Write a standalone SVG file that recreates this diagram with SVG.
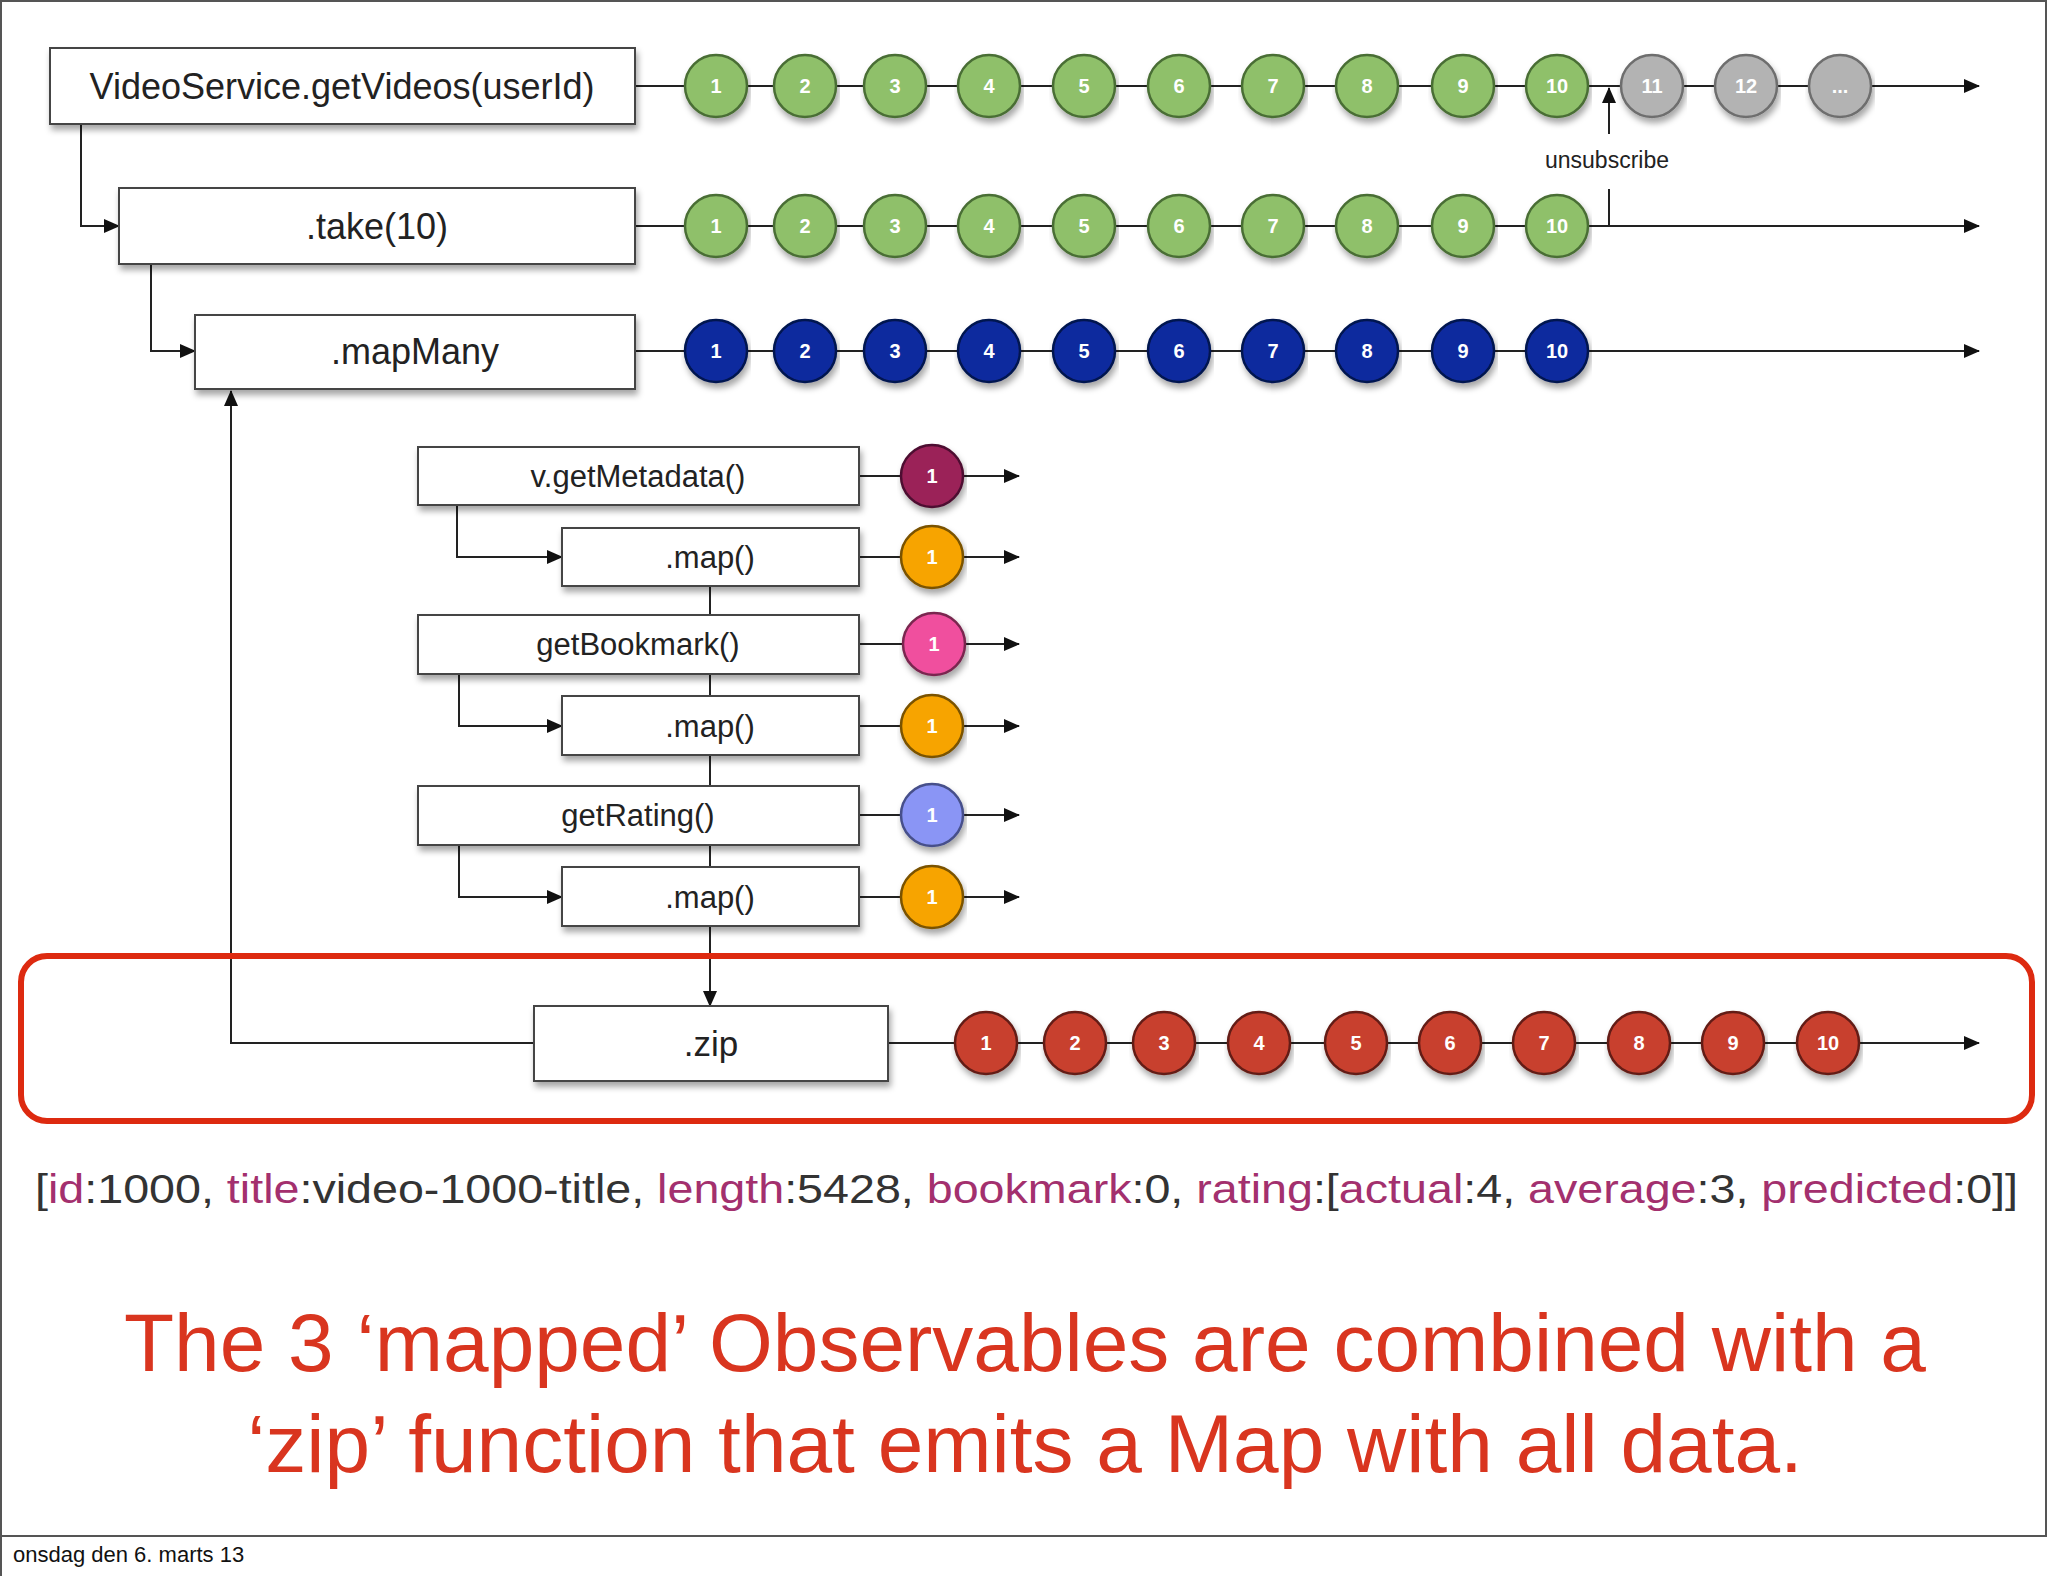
<svg xmlns="http://www.w3.org/2000/svg" width="2048" height="1576" viewBox="0 0 2048 1576">
<defs>
<marker id="ah" markerWidth="16" markerHeight="14" refX="15" refY="7" orient="auto" markerUnits="userSpaceOnUse"><path d="M0,0 L16,7 L0,14 z" fill="#111"/></marker>
<filter id="sh" x="-5%" y="-20%" width="110%" height="150%"><feDropShadow dx="2" dy="5" stdDeviation="3" flood-color="#000" flood-opacity="0.35"/></filter>
</defs>
<style>
.box{fill:#fff;stroke:#444;stroke-width:2;filter:url(#sh)}
.bt{font-family:"Liberation Sans",Arial,sans-serif;fill:#222;text-anchor:middle}
.ln{stroke:#222;stroke-width:2;fill:none}
.c{stroke-width:2.5;filter:url(#sh)}
.ct{font-family:"Liberation Sans",Arial,sans-serif;font-size:20px;fill:#fff;text-anchor:middle;font-weight:bold}
.g{fill:#8fc06a;stroke:#4a6e35}.gr{fill:#b3b3b3;stroke:#6e6e6e}.b{fill:#0a2a9e;stroke:#061650}
.m{fill:#9b2258;stroke:#4e1030}.p{fill:#f0509e;stroke:#7a2850}.v{fill:#8a95f5;stroke:#46508a}.o{fill:#f7a400;stroke:#7a5200}.r{fill:#c8402f;stroke:#641e16}
.k{fill:#a3306e}
</style>
<rect width="2048" height="1576" fill="#fff"/>
<path d="M1,1576 V1 H2046 V1536 H1 " fill="none" stroke="#555" stroke-width="2"/>
<g id="connectors">
<line class="ln" x1="635" y1="86" x2="1979" y2="86" marker-end="url(#ah)"/>
<line class="ln" x1="635" y1="226" x2="1979" y2="226" marker-end="url(#ah)"/>
<line class="ln" x1="635" y1="351" x2="1979" y2="351" marker-end="url(#ah)"/>
<line class="ln" x1="888" y1="1043" x2="1979" y2="1043" marker-end="url(#ah)"/>
<path class="ln" d="M81,124 V226 H119" marker-end="url(#ah)"/>
<path class="ln" d="M151,264 V351 H195" marker-end="url(#ah)"/>
<path class="ln" d="M534,1043 H231 V391" marker-end="url(#ah)"/>
<path class="ln" d="M1609,226 V189"/>
<line class="ln" x1="1609" y1="134" x2="1609" y2="88" marker-end="url(#ah)"/>
<path class="ln" d="M457,505 V557 H562" marker-end="url(#ah)"/>
<path class="ln" d="M459,674 V726 H562" marker-end="url(#ah)"/>
<path class="ln" d="M459,845 V897 H562" marker-end="url(#ah)"/>
<line class="ln" x1="710" y1="586" x2="710" y2="1006" marker-end="url(#ah)"/>
<g>
<line class="ln" x1="859" y1="476" x2="1019" y2="476" marker-end="url(#ah)"/>
<line class="ln" x1="859" y1="557" x2="1019" y2="557" marker-end="url(#ah)"/>
<line class="ln" x1="859" y1="644" x2="1019" y2="644" marker-end="url(#ah)"/>
<line class="ln" x1="859" y1="726" x2="1019" y2="726" marker-end="url(#ah)"/>
<line class="ln" x1="859" y1="815" x2="1019" y2="815" marker-end="url(#ah)"/>
<line class="ln" x1="859" y1="897" x2="1019" y2="897" marker-end="url(#ah)"/>
</g>
</g>
<text x="1607" y="168" class="bt" font-size="23" fill="#333">unsubscribe</text>
<g id="n-getVideos"><rect class="box" x="50" y="48" width="585" height="76"/><text class="bt" x="342" y="99" font-size="36">VideoService.getVideos(userId)</text></g>
<g id="n-take"><rect class="box" x="119" y="188" width="516" height="76"/><text class="bt" x="377" y="239" font-size="36">.take(10)</text></g>
<g id="n-mapMany"><rect class="box" x="195" y="315" width="440" height="74"/><text class="bt" x="415" y="364" font-size="36">.mapMany</text></g>
<g id="n-meta"><rect class="box" x="418" y="447" width="441" height="58"/><text class="bt" x="638" y="487" font-size="31">v.getMetadata()</text></g>
<g id="n-map1"><rect class="box" x="562" y="528" width="297" height="58"/><text class="bt" x="710" y="568" font-size="31">.map()</text></g>
<g id="n-bookmark"><rect class="box" x="418" y="615" width="441" height="59"/><text class="bt" x="638" y="655" font-size="31">getBookmark()</text></g>
<g id="n-map2"><rect class="box" x="562" y="696" width="297" height="59"/><text class="bt" x="710" y="737" font-size="31">.map()</text></g>
<g id="n-rating"><rect class="box" x="418" y="786" width="441" height="59"/><text class="bt" x="638" y="826" font-size="31">getRating()</text></g>
<g id="n-map3"><rect class="box" x="562" y="867" width="297" height="59"/><text class="bt" x="710" y="908" font-size="31">.map()</text></g>
<g id="n-zip"><rect class="box" x="534" y="1006" width="354" height="75"/><text class="bt" x="711" y="1056" font-size="35">.zip</text></g>
<g id="row1">
<circle class="c g" cx="716" cy="86" r="31"/><text class="ct" x="716" y="93">1</text>
<circle class="c g" cx="805" cy="86" r="31"/><text class="ct" x="805" y="93">2</text>
<circle class="c g" cx="895" cy="86" r="31"/><text class="ct" x="895" y="93">3</text>
<circle class="c g" cx="989" cy="86" r="31"/><text class="ct" x="989" y="93">4</text>
<circle class="c g" cx="1084" cy="86" r="31"/><text class="ct" x="1084" y="93">5</text>
<circle class="c g" cx="1179" cy="86" r="31"/><text class="ct" x="1179" y="93">6</text>
<circle class="c g" cx="1273" cy="86" r="31"/><text class="ct" x="1273" y="93">7</text>
<circle class="c g" cx="1367" cy="86" r="31"/><text class="ct" x="1367" y="93">8</text>
<circle class="c g" cx="1463" cy="86" r="31"/><text class="ct" x="1463" y="93">9</text>
<circle class="c g" cx="1557" cy="86" r="31"/><text class="ct" x="1557" y="93">10</text>
<circle class="c gr" cx="1652" cy="86" r="31"/><text class="ct" x="1652" y="93">11</text>
<circle class="c gr" cx="1746" cy="86" r="31"/><text class="ct" x="1746" y="93">12</text>
<circle class="c gr" cx="1840" cy="86" r="31"/><text class="ct" x="1840" y="93">...</text>
</g>
<g id="row2">
<circle class="c g" cx="716" cy="226" r="31"/><text class="ct" x="716" y="233">1</text>
<circle class="c g" cx="805" cy="226" r="31"/><text class="ct" x="805" y="233">2</text>
<circle class="c g" cx="895" cy="226" r="31"/><text class="ct" x="895" y="233">3</text>
<circle class="c g" cx="989" cy="226" r="31"/><text class="ct" x="989" y="233">4</text>
<circle class="c g" cx="1084" cy="226" r="31"/><text class="ct" x="1084" y="233">5</text>
<circle class="c g" cx="1179" cy="226" r="31"/><text class="ct" x="1179" y="233">6</text>
<circle class="c g" cx="1273" cy="226" r="31"/><text class="ct" x="1273" y="233">7</text>
<circle class="c g" cx="1367" cy="226" r="31"/><text class="ct" x="1367" y="233">8</text>
<circle class="c g" cx="1463" cy="226" r="31"/><text class="ct" x="1463" y="233">9</text>
<circle class="c g" cx="1557" cy="226" r="31"/><text class="ct" x="1557" y="233">10</text>
</g>
<g id="row3">
<circle class="c b" cx="716" cy="351" r="31"/><text class="ct" x="716" y="358">1</text>
<circle class="c b" cx="805" cy="351" r="31"/><text class="ct" x="805" y="358">2</text>
<circle class="c b" cx="895" cy="351" r="31"/><text class="ct" x="895" y="358">3</text>
<circle class="c b" cx="989" cy="351" r="31"/><text class="ct" x="989" y="358">4</text>
<circle class="c b" cx="1084" cy="351" r="31"/><text class="ct" x="1084" y="358">5</text>
<circle class="c b" cx="1179" cy="351" r="31"/><text class="ct" x="1179" y="358">6</text>
<circle class="c b" cx="1273" cy="351" r="31"/><text class="ct" x="1273" y="358">7</text>
<circle class="c b" cx="1367" cy="351" r="31"/><text class="ct" x="1367" y="358">8</text>
<circle class="c b" cx="1463" cy="351" r="31"/><text class="ct" x="1463" y="358">9</text>
<circle class="c b" cx="1557" cy="351" r="31"/><text class="ct" x="1557" y="358">10</text>
</g>
<g id="small">
<circle class="c m" cx="932" cy="476" r="31"/><text class="ct" x="932" y="483">1</text>
<circle class="c o" cx="932" cy="557" r="31"/><text class="ct" x="932" y="564">1</text>
<circle class="c p" cx="934" cy="644" r="31"/><text class="ct" x="934" y="651">1</text>
<circle class="c o" cx="932" cy="726" r="31"/><text class="ct" x="932" y="733">1</text>
<circle class="c v" cx="932" cy="815" r="31"/><text class="ct" x="932" y="822">1</text>
<circle class="c o" cx="932" cy="897" r="31"/><text class="ct" x="932" y="904">1</text>
</g>
<g id="row4">
<circle class="c r" cx="986" cy="1043" r="31"/><text class="ct" x="986" y="1050">1</text>
<circle class="c r" cx="1075" cy="1043" r="31"/><text class="ct" x="1075" y="1050">2</text>
<circle class="c r" cx="1164" cy="1043" r="31"/><text class="ct" x="1164" y="1050">3</text>
<circle class="c r" cx="1259" cy="1043" r="31"/><text class="ct" x="1259" y="1050">4</text>
<circle class="c r" cx="1356" cy="1043" r="31"/><text class="ct" x="1356" y="1050">5</text>
<circle class="c r" cx="1450" cy="1043" r="31"/><text class="ct" x="1450" y="1050">6</text>
<circle class="c r" cx="1544" cy="1043" r="31"/><text class="ct" x="1544" y="1050">7</text>
<circle class="c r" cx="1639" cy="1043" r="31"/><text class="ct" x="1639" y="1050">8</text>
<circle class="c r" cx="1733" cy="1043" r="31"/><text class="ct" x="1733" y="1050">9</text>
<circle class="c r" cx="1828" cy="1043" r="31"/><text class="ct" x="1828" y="1050">10</text>
</g>
<rect x="21" y="956" width="2011" height="165" rx="26" fill="none" stroke="#dd2a10" stroke-width="6"/>
<text x="35" y="1203" font-family="Liberation Sans,Arial,sans-serif" font-size="41" fill="#333" textLength="1983" lengthAdjust="spacingAndGlyphs">[<tspan class="k">id</tspan>:1000, <tspan class="k">title</tspan>:video-1000-title, <tspan class="k">length</tspan>:5428, <tspan class="k">bookmark</tspan>:0, <tspan class="k">rating</tspan>:[<tspan class="k">actual</tspan>:4, <tspan class="k">average</tspan>:3, <tspan class="k">predicted</tspan>:0]]</text>
<g font-family="Liberation Sans,Arial,sans-serif" font-size="82" fill="#d9351f" text-anchor="middle">
<text x="1025" y="1371">The 3 ‘mapped’ Observables are combined with a</text>
<text x="1025" y="1472">‘zip’ function that emits a Map with all data.</text>
</g>
<text x="13" y="1562" font-family="Liberation Sans,Arial,sans-serif" font-size="22" fill="#111">onsdag den 6. marts 13</text>
</svg>
